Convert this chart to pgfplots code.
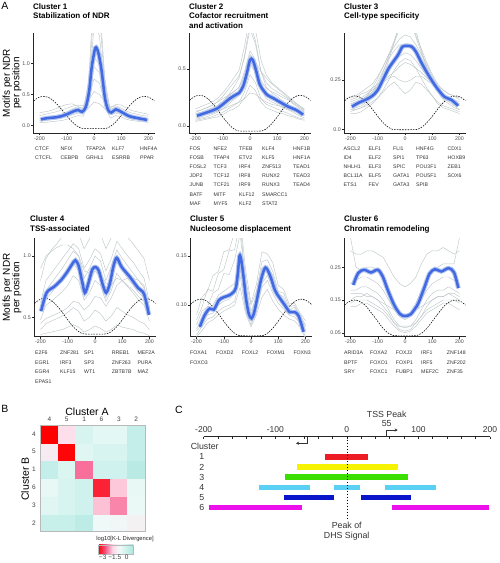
\documentclass[border=0pt]{standalone}
\usepackage{fontspec}
\setmainfont{Liberation Sans}
\usepackage{pgfplots}
\pgfplotsset{compat=1.18}
\usepackage{pgfplotstable}
\usetikzlibrary{calc,arrows.meta}

\definecolor{ggblue}{RGB}{65,105,225}
\definecolor{ggband}{RGB}{178,196,238}
\definecolor{grayl}{RGB}{190,199,201}
\definecolor{cR}{RGB}{237,28,36}
\definecolor{cY}{RGB}{246,242,0}
\definecolor{cG}{RGB}{60,222,0}
\definecolor{cC}{RGB}{90,208,245}
\definecolor{cB}{RGB}{10,20,200}
\definecolor{cM}{RGB}{236,16,236}

\newcommand{\fTF}{\fontsize{5.2}{6}\selectfont}
\newcommand{\fTick}{\fontsize{5.3}{6}\selectfont}
\newcommand{\fTitle}{\fontsize{8}{9.5}\selectfont\bfseries}
\newcommand{\fLab}{\fontsize{10}{9.4}\selectfont}
\newcommand{\fC}{\fontsize{8.8}{10}\selectfont}

\newcommand{\tfcol}[4]{\foreach \tfn [count=\i from 0] in {#4}{\node[anchor=base west, inner sep=0pt, font=\fTF, text=black!80] at ({#1pt},{-#2pt-#3pt*\i}) {\tfn};}}

\pgfplotsset{
  colormap={klmap}{rgb255=(255,0,0) rgb255=(245,85,135) rgb255=(255,215,230) rgb255=(240,250,248) rgb255=(205,242,237) rgb255=(170,228,222)},
  pA/.style={anchor=south west, scale only axis, width=122pt, xmin=-224, xmax=224,
    axis x line*=bottom, axis y line*=left, axis line style={-, line width=0.6pt, black!85},
    xtick={-200,-100,0,100,200}, xticklabels={-200,-100,0,100,200}, scaled ticks=false,
    tick align=outside, major tick length=1.8pt, tick style={line width=0.5pt, black!85},
    ticklabel style={font=\fTick, text=black!70}, xticklabel style={inner sep=1.5pt},
    yticklabel style={inner sep=1.2pt}, clip=true},
  gl/.style={no marks, line width=0.45pt, color=grayl},
  ml/.style={no marks, line width=2.5pt, color=ggblue, smooth},
  bl/.style={no marks, line width=4.6pt, color=ggband, smooth},
  dl/.style={no marks, line width=0.55pt, black, dash pattern=on 1.5pt off 1.2pt, smooth},
  barC/.style={no marks, line width=5.3pt},
}

% ---------------- dashed nucleosome curves (one column per cluster)
\pgfplotstableread{
x d1 d2 d3 d4 d5 d6
-222 0.396 0.225 0.145 0.613 0.1007 0.134
-210 0.435 0.249 0.158 0.636 0.1035 0.143
-200 0.458 0.262 0.166 0.648 0.1051 0.147
-185 0.470 0.270 0.170 0.655 0.1060 0.150
-170 0.458 0.262 0.166 0.648 0.1051 0.147
-155 0.421 0.240 0.154 0.627 0.1025 0.140
-140 0.363 0.205 0.135 0.595 0.0984 0.128
-125 0.291 0.162 0.111 0.555 0.0932 0.112
-110 0.211 0.113 0.084 0.510 0.0875 0.096
-95 0.131 0.064 0.057 0.464 0.0818 0.079
-80 0.059 0.021 0.033 0.424 0.0766 0.063
-65 0.001 -0.014 0.014 0.392 0.0725 0.051
-50 -0.036 -0.037 0.002 0.371 0.0699 0.044
-35 -0.048 -0.044 -0.002 0.364 0.0690 0.041
35 -0.048 -0.044 -0.002 0.364 0.0690 0.041
50 -0.036 -0.037 0.002 0.371 0.0699 0.044
65 0.001 -0.014 0.014 0.392 0.0725 0.051
80 0.059 0.021 0.033 0.424 0.0766 0.063
95 0.131 0.064 0.057 0.464 0.0818 0.079
110 0.211 0.113 0.084 0.510 0.0875 0.096
125 0.291 0.162 0.111 0.555 0.0932 0.112
140 0.363 0.205 0.135 0.595 0.0984 0.128
155 0.421 0.240 0.154 0.627 0.1025 0.140
170 0.458 0.262 0.166 0.648 0.1051 0.147
185 0.470 0.270 0.170 0.655 0.1060 0.150
200 0.458 0.262 0.166 0.648 0.1051 0.147
210 0.435 0.249 0.158 0.636 0.1035 0.143
222 0.396 0.225 0.145 0.613 0.1007 0.134
}\dsh

% ---------------- smoothed means
\pgfplotstableread{
x m
-195 0.10
-170 0.12
-145 0.13
-120 0.15
-95 0.19
-75 0.23
-58 0.25
-44 0.22
-30 0.30
-18 0.55
-8 0.95
5 1.25
16 1.17
28 0.88
40 0.45
52 0.25
64 0.21
80 0.26
100 0.22
130 0.15
160 0.12
195 0.09
}\mA
\pgfplotstableread{
x m
-195 0.09
-170 0.11
-145 0.13
-120 0.155
-95 0.20
-75 0.24
-55 0.27
-40 0.29
-25 0.35
-12 0.46
0 0.58
10 0.58
22 0.49
35 0.37
50 0.31
65 0.27
85 0.245
110 0.21
140 0.17
170 0.14
195 0.10
}\mB
\pgfplotstableread{
x m
-195 0.115
-170 0.135
-145 0.15
-120 0.17
-100 0.20
-80 0.255
-60 0.31
-40 0.35
-25 0.38
-10 0.42
0 0.425
10 0.425
25 0.42
40 0.395
60 0.34
80 0.29
100 0.245
120 0.205
145 0.165
170 0.15
195 0.12
}\mC
\pgfplotstableread{
x m
-198 0.55
-178 0.70
-150 0.75
-126 0.80
-102 0.87
-85 0.93
-72 0.965
-60 0.92
-48 0.80
-37 0.70
-24 0.78
-10 0.89
2 0.91
14 0.88
28 0.77
41 0.70
55 0.78
68 0.92
80 0.985
98 0.91
128 0.83
158 0.74
180 0.69
198 0.52
}\mD
\pgfplotstableread{
x m
-188 0.078
-170 0.090
-152 0.0965
-136 0.0955
-118 0.105
-100 0.108
-80 0.110
-65 0.113
-55 0.118
-48 0.133
-42 0.150
-36 0.146
-28 0.130
-18 0.106
-8 0.091
2 0.0865
12 0.093
25 0.110
38 0.127
53 0.138
70 0.130
88 0.115
106 0.107
124 0.100
142 0.093
160 0.093
175 0.089
193 0.073
}\mE
\pgfplotstableread{
x m
-190 0.196
-172 0.232
-150 0.242
-125 0.234
-100 0.242
-82 0.222
-64 0.182
-40 0.135
-18 0.107
0 0.101
20 0.106
38 0.125
50 0.142
72 0.19
90 0.23
110 0.244
133 0.237
160 0.247
180 0.234
196 0.186
}\mF

% ---------------- individual factor profiles (gray)
\pgfplotstableread{
x g1 g2 g3 g4 g5 g6 g7 g8
-200 0.12 0.08 0.11 0.16 0.05 0.21 0.09 0.07
-180 0.13 0.09 0.12 0.18 0.05 0.22 0.10 0.08
-160 0.15 0.10 0.13 0.20 0.06 0.24 0.11 0.09
-140 0.16 0.11 0.15 0.22 0.07 0.27 0.12 0.10
-120 0.18 0.13 0.17 0.25 0.08 0.31 0.14 0.12
-100 0.22 0.16 0.20 0.28 0.10 0.34 0.17 0.14
-80 0.27 0.20 0.24 0.31 0.13 0.35 0.21 0.17
-60 0.30 0.22 0.27 0.33 0.16 0.31 0.25 0.20
-40 0.28 0.20 0.26 0.32 0.15 0.27 0.24 0.20
-20 0.60 0.50 0.42 0.40 0.35 0.50 0.70 0.28
0 1.90 1.60 0.75 0.55 0.95 1.10 2.20 0.38
20 1.80 1.45 0.68 0.50 0.85 0.98 2.00 0.35
40 0.65 0.55 0.38 0.38 0.30 0.42 0.75 0.27
60 0.26 0.18 0.24 0.30 0.12 0.28 0.22 0.18
80 0.30 0.22 0.28 0.32 0.16 0.34 0.25 0.20
100 0.25 0.20 0.24 0.28 0.14 0.33 0.22 0.18
120 0.19 0.14 0.17 0.23 0.10 0.28 0.15 0.13
140 0.16 0.12 0.15 0.20 0.08 0.24 0.12 0.10
160 0.14 0.10 0.13 0.18 0.07 0.22 0.11 0.09
180 0.13 0.09 0.12 0.16 0.06 0.20 0.10 0.08
200 0.11 0.08 0.10 0.15 0.05 0.18 0.09 0.07
}\gA
\pgfplotstableread{
x g1 g2 g3 g4 g5 g6 g7 g8 g9 g10
-200 0.05 0.12 0.04 0.15 0.07 0.10 0.08 0.11 0.06 0.13
-180 0.06 0.14 0.05 0.17 0.08 0.10 0.09 0.12 0.07 0.14
-160 0.07 0.16 0.06 0.19 0.10 0.11 0.11 0.14 0.08 0.16
-140 0.08 0.18 0.07 0.21 0.11 0.12 0.13 0.16 0.10 0.18
-120 0.10 0.21 0.08 0.24 0.13 0.13 0.16 0.18 0.12 0.21
-100 0.12 0.26 0.10 0.29 0.17 0.15 0.21 0.22 0.15 0.24
-80 0.15 0.32 0.13 0.35 0.21 0.17 0.27 0.26 0.19 0.27
-60 0.18 0.38 0.15 0.42 0.24 0.19 0.34 0.30 0.23 0.30
-40 0.21 0.44 0.18 0.49 0.27 0.21 0.42 0.34 0.27 0.34
-20 0.30 0.60 0.25 0.70 0.38 0.24 0.62 0.48 0.40 0.44
0 0.45 0.85 0.36 0.98 0.55 0.29 0.90 0.66 0.63 0.58
20 0.38 0.72 0.31 0.85 0.47 0.28 0.75 0.58 0.52 0.56
40 0.24 0.48 0.21 0.58 0.32 0.24 0.48 0.40 0.32 0.48
60 0.19 0.38 0.16 0.45 0.26 0.21 0.34 0.33 0.24 0.42
80 0.17 0.33 0.14 0.38 0.23 0.19 0.29 0.30 0.21 0.37
100 0.15 0.30 0.12 0.34 0.21 0.18 0.26 0.28 0.19 0.33
120 0.13 0.27 0.11 0.30 0.18 0.17 0.22 0.25 0.16 0.29
140 0.11 0.24 0.09 0.26 0.16 0.15 0.19 0.23 0.14 0.25
160 0.09 0.20 0.08 0.22 0.14 0.13 0.16 0.19 0.12 0.21
180 0.07 0.17 0.06 0.18 0.11 0.12 0.13 0.16 0.09 0.18
200 0.06 0.13 0.05 0.15 0.09 0.10 0.10 0.12 0.07 0.14
}\gB
\pgfplotstableread{
x g1 g2 g3 g4 g5 g6 g7 g8 g9 g10
-200 0.10 0.13 0.16 0.09 0.12 0.08 0.14 0.11 0.10 0.15
-180 0.11 0.14 0.17 0.10 0.13 0.08 0.15 0.12 0.10 0.16
-160 0.12 0.15 0.19 0.11 0.15 0.09 0.16 0.14 0.11 0.18
-140 0.14 0.17 0.21 0.12 0.17 0.11 0.18 0.16 0.13 0.19
-120 0.17 0.19 0.23 0.14 0.21 0.13 0.20 0.19 0.16 0.21
-100 0.22 0.22 0.27 0.16 0.26 0.16 0.22 0.24 0.20 0.23
-80 0.29 0.26 0.32 0.19 0.32 0.20 0.24 0.30 0.27 0.25
-60 0.37 0.30 0.38 0.22 0.38 0.25 0.26 0.36 0.35 0.27
-40 0.44 0.34 0.45 0.24 0.42 0.30 0.27 0.40 0.44 0.29
-20 0.51 0.37 0.53 0.21 0.46 0.34 0.25 0.43 0.54 0.32
0 0.55 0.39 0.58 0.18 0.48 0.36 0.24 0.43 0.60 0.34
20 0.54 0.38 0.56 0.20 0.47 0.35 0.25 0.43 0.58 0.33
40 0.47 0.35 0.48 0.24 0.43 0.31 0.27 0.41 0.50 0.31
60 0.39 0.31 0.41 0.23 0.38 0.26 0.27 0.36 0.40 0.29
80 0.31 0.27 0.34 0.20 0.33 0.21 0.25 0.31 0.32 0.26
100 0.25 0.23 0.28 0.17 0.27 0.17 0.23 0.26 0.25 0.24
120 0.20 0.20 0.23 0.14 0.22 0.13 0.21 0.21 0.19 0.22
140 0.16 0.18 0.20 0.12 0.18 0.11 0.18 0.17 0.15 0.20
160 0.14 0.16 0.18 0.11 0.15 0.10 0.16 0.15 0.13 0.18
180 0.12 0.14 0.17 0.10 0.13 0.09 0.15 0.13 0.11 0.17
200 0.10 0.13 0.15 0.09 0.12 0.08 0.14 0.12 0.10 0.16
}\gC
\pgfplotstableread{
x g1 g2 g3 g4 g5 g6 g7 g8 g9
-200 0.62 0.48 0.40 0.80 0.36 0.55 0.90 0.45 0.58
-180 0.80 0.60 0.45 0.98 0.37 0.65 1.00 0.49 0.72
-160 0.86 0.63 0.47 1.05 0.38 0.70 1.04 0.51 0.78
-140 0.92 0.67 0.49 1.10 0.39 0.76 1.07 0.53 0.84
-120 0.98 0.71 0.51 1.16 0.40 0.82 1.09 0.55 0.90
-100 1.04 0.76 0.54 1.22 0.42 0.88 1.09 0.58 0.97
-80 1.10 0.84 0.58 1.25 0.44 0.94 1.06 0.63 1.04
-60 1.06 0.80 0.55 1.18 0.42 0.88 1.00 0.62 1.00
-40 0.90 0.64 0.47 1.06 0.38 0.68 0.88 0.56 0.82
-20 0.97 0.70 0.50 1.14 0.40 0.78 0.86 0.60 0.90
0 1.06 0.80 0.56 1.22 0.43 0.88 0.90 0.67 1.00
20 1.02 0.76 0.53 1.18 0.41 0.82 0.86 0.66 0.96
40 0.88 0.63 0.47 1.06 0.38 0.66 0.78 0.59 0.80
60 0.98 0.72 0.51 1.15 0.40 0.80 0.76 0.66 0.92
80 1.12 0.86 0.58 1.26 0.44 0.95 0.82 0.76 1.05
100 1.06 0.80 0.55 1.20 0.42 0.88 0.80 0.80 0.98
120 1.00 0.75 0.52 1.15 0.41 0.82 0.76 0.82 0.92
140 0.95 0.70 0.50 1.10 0.40 0.76 0.72 0.82 0.86
160 0.88 0.64 0.47 1.04 0.38 0.70 0.67 0.80 0.80
180 0.82 0.60 0.45 0.98 0.37 0.66 0.63 0.76 0.74
200 0.62 0.47 0.40 0.80 0.35 0.55 0.52 0.58 0.58
}\gD
\pgfplotstableread{
x g1 g2 g3 g4 g5 g6 g7
-200 0.080 0.070 0.085 0.074 0.068 0.090 0.076
-180 0.094 0.078 0.098 0.080 0.074 0.108 0.084
-160 0.098 0.086 0.116 0.090 0.082 0.114 0.096
-140 0.112 0.088 0.114 0.092 0.085 0.130 0.100
-120 0.116 0.094 0.132 0.100 0.090 0.134 0.110
-100 0.132 0.098 0.136 0.104 0.094 0.154 0.114
-80 0.131 0.100 0.155 0.106 0.097 0.156 0.118
-60 0.146 0.104 0.156 0.112 0.100 0.174 0.122
-40 0.172 0.130 0.185 0.140 0.118 0.190 0.150
-20 0.126 0.095 0.120 0.100 0.092 0.136 0.110
0 0.100 0.080 0.094 0.084 0.078 0.102 0.090
20 0.114 0.096 0.108 0.100 0.090 0.121 0.108
40 0.144 0.118 0.138 0.122 0.108 0.154 0.128
60 0.146 0.125 0.140 0.130 0.116 0.152 0.138
80 0.134 0.112 0.130 0.118 0.104 0.143 0.124
100 0.114 0.102 0.112 0.108 0.096 0.120 0.112
120 0.112 0.096 0.108 0.100 0.090 0.116 0.104
140 0.098 0.090 0.095 0.092 0.086 0.101 0.096
160 0.100 0.088 0.098 0.091 0.084 0.102 0.094
180 0.088 0.082 0.090 0.084 0.078 0.092 0.088
200 0.078 0.068 0.080 0.072 0.066 0.084 0.074
}\gE
\pgfplotstableread{
x g1 g2 g3 g4 g5 g6 g7 g8
-200 0.30 0.18 0.15 0.20 0.13 0.17 0.34 0.14
-180 0.29 0.18 0.16 0.21 0.13 0.17 0.25 0.15
-160 0.29 0.19 0.16 0.22 0.14 0.17 0.24 0.15
-140 0.30 0.19 0.17 0.22 0.14 0.16 0.25 0.15
-120 0.30 0.18 0.16 0.21 0.13 0.16 0.25 0.14
-100 0.29 0.17 0.15 0.20 0.12 0.15 0.24 0.13
-80 0.28 0.15 0.13 0.18 0.11 0.14 0.22 0.12
-60 0.25 0.12 0.11 0.15 0.09 0.13 0.18 0.10
-40 0.22 0.09 0.08 0.12 0.07 0.12 0.14 0.08
-20 0.20 0.07 0.06 0.10 0.055 0.11 0.11 0.07
0 0.19 0.065 0.055 0.09 0.05 0.105 0.10 0.07
20 0.20 0.07 0.06 0.10 0.055 0.11 0.11 0.07
40 0.22 0.09 0.08 0.12 0.07 0.12 0.14 0.08
60 0.26 0.12 0.10 0.15 0.09 0.13 0.18 0.10
80 0.29 0.15 0.13 0.18 0.11 0.14 0.22 0.12
100 0.30 0.17 0.15 0.20 0.12 0.15 0.24 0.13
120 0.30 0.18 0.16 0.21 0.13 0.16 0.25 0.14
140 0.31 0.18 0.16 0.22 0.14 0.16 0.26 0.15
160 0.30 0.19 0.17 0.22 0.14 0.17 0.26 0.15
180 0.29 0.18 0.16 0.21 0.13 0.17 0.26 0.15
200 0.30 0.17 0.15 0.20 0.12 0.16 0.34 0.14
}\gF

% ---------------- heatmap (log10 K-L divergence); x = cluster A (4,5,1,6,3,2), y = cluster B (2,3,6,1,5,4)
\pgfplotstableread{
x y c
0 0 0.1
1 0 0.1
2 0 0.35
3 0 -0.9
4 0 -1.0
5 0 -1.15
0 1 -0.5
1 1 -0.3
2 1 -0.1
3 1 -1.95
4 1 -2.35
5 1 -0.8
0 2 -0.7
1 2 -0.3
2 2 -0.1
3 2 -3.2
4 2 -1.9
5 2 -0.7
0 3 0.2
1 3 -0.4
2 3 -2.5
3 3 -0.1
4 3 -0.1
5 3 0.45
0 4 -1.3
1 4 -3.5
2 4 -0.5
3 4 -0.3
4 4 -0.3
5 4 0.2
0 5 -3.55
1 5 -1.6
2 5 -0.3
3 5 -0.6
4 5 -0.6
5 5 0.2
}\hm

\begin{document}
\begin{tikzpicture}
\path[use as bounding box] (0,0) rectangle (499pt,-563pt);

% ===== Panel A, row 1
\begin{axis}[pA, at={(33pt,-133pt)}, height=100pt, ymin=-0.12, ymax=1.49, ytick={0,0.5,1}, yticklabels={0.0,0.5,1.0}]
\pgfplotsinvokeforeach{1,...,8}{\addplot[gl] table[x=x,y=g#1]{\gA};}
\addplot[dl] table[x=x,y=d1]{\dsh};
\addplot[bl] table[x=x,y=m]{\mA};
\addplot[ml] table[x=x,y=m]{\mA};
\end{axis}
\begin{axis}[pA, at={(189pt,-133pt)}, height=100pt, ymin=-0.061, ymax=0.816, ytick={0,0.5}, yticklabels={0.0,0.5}]
\pgfplotsinvokeforeach{1,...,10}{\addplot[gl] table[x=x,y=g#1]{\gB};}
\addplot[dl] table[x=x,y=d2]{\dsh};
\addplot[bl] table[x=x,y=m]{\mB};
\addplot[ml] table[x=x,y=m]{\mB};
\end{axis}
\begin{axis}[pA, at={(344pt,-133pt)}, height=100pt, ymin=-0.019, ymax=0.49, ytick={0,0.25}, yticklabels={0.0,0.25}]
\pgfplotsinvokeforeach{1,...,10}{\addplot[gl] table[x=x,y=g#1]{\gC};}
\addplot[dl] table[x=x,y=d3]{\dsh};
\addplot[bl] table[x=x,y=m]{\mC};
\addplot[ml] table[x=x,y=m]{\mC};
\end{axis}

% ===== Panel A, row 2
\begin{axis}[pA, at={(34pt,-336.7pt)}, height=98.7pt, ymin=0.342, ymax=1.147, ytick={0.5,1}, yticklabels={0.5,1.0}]
\pgfplotsinvokeforeach{1,...,9}{\addplot[gl] table[x=x,y=g#1]{\gD};}
\addplot[dl] table[x=x,y=d4]{\dsh};
\addplot[bl] table[x=x,y=m]{\mD};
\addplot[ml] table[x=x,y=m]{\mD};
\end{axis}
\begin{axis}[pA, at={(190pt,-336.7pt)}, height=98.7pt, ymin=0.068, ymax=0.168, ytick={0.10,0.15}, yticklabels={0.10,0.15}]
\pgfplotsinvokeforeach{1,...,7}{\addplot[gl] table[x=x,y=g#1]{\gE};}
\addplot[dl] table[x=x,y=d5]{\dsh};
\addplot[bl] table[x=x,y=m]{\mE};
\addplot[ml] table[x=x,y=m]{\mE};
\end{axis}
\begin{axis}[pA, at={(344pt,-336.7pt)}, height=98.7pt, ymin=0.038, ymax=0.339, ytick={0.05,0.15,0.25}, yticklabels={0.05,0.15,0.25}]
\pgfplotsinvokeforeach{1,...,8}{\addplot[gl] table[x=x,y=g#1]{\gF};}
\addplot[dl] table[x=x,y=d6]{\dsh};
\addplot[bl] table[x=x,y=m]{\mF};
\addplot[ml] table[x=x,y=m]{\mF};
\end{axis}

% ===== Panel B heatmap
\begin{axis}[at={(40.7pt,-531.7pt)}, anchor=south west, scale only axis, width=104.3pt, height=106.7pt,
  xmin=-0.5, xmax=5.5, ymin=-0.5, ymax=5.5, axis on top,
  xtick={0,1,2,3,4,5}, xticklabels={4,5,1,6,3,2}, ytick={0,1,2,3,4,5}, yticklabels={2,3,6,1,5,4},
  xticklabel pos=upper, major tick length=0pt,
  ticklabel style={font=\fontsize{6.5}{7}\selectfont, text=black!75}, yticklabel style={xshift=-1.5pt},
  axis line style={gray!55, line width=0.5pt},
  colormap name=klmap, point meta min=-3.55, point meta max=0.825,
  colorbar horizontal,
  colorbar style={at={($(parent axis.south west)+(57.6pt,-4.6pt)$)}, anchor=north west,
    scale only axis, width=35pt, height=9pt, xtick={-3,-1.5,0}, xticklabels={−3,−1.5,0},
    major tick length=0pt, xticklabel style={font=\fontsize{6.5}{7}\selectfont, text=black!75, inner sep=1pt},
    axis line style={gray!55, line width=0.4pt}}]
\addplot[matrix plot*, mesh/cols=6, point meta=explicit] table[x=x,y=y,meta=c]{\hm};
\end{axis}

% ===== Panel C
\begin{axis}[at={(203.7pt,-518.5pt)}, anchor=south west, scale only axis, width=286.3pt, height=81.8pt,
  xmin=-200, xmax=200, ymin=-7.1, ymax=1, axis x line=top, axis y line=none,
  axis line style={-, line width=0.7pt, black!85},
  xtick={-200,-100,0,100,200}, xticklabels={-200,-100,0,100,200}, minor xtick={-180,-160,...,180},
  tick align=inside, major tick length=2.7pt, minor tick length=2.7pt, tick style={line width=0.6pt, black!85},
  xticklabel style={font=\fontsize{8.5}{9}\selectfont, text=black!80, yshift=1pt}, clip=false]
\addplot[barC, cR] coordinates {(-30,-1) (30,-1)};
\addplot[barC, cY] coordinates {(-70,-2) (71,-2)};
\addplot[barC, cG] coordinates {(-86,-3) (86,-3)};
\addplot[barC, cC] coordinates {(-123,-4) (-51,-4)};
\addplot[barC, cC] coordinates {(-18,-4) (18,-4)};
\addplot[barC, cC] coordinates {(53,-4) (124,-4)};
\addplot[barC, cB] coordinates {(-88,-5) (-18,-5)};
\addplot[barC, cB] coordinates {(20,-5) (90,-5)};
\addplot[barC, cM] coordinates {(-193,-6) (-62,-6)};
\addplot[barC, cM] coordinates {(63,-6) (198,-6)};
\addplot[no marks, black, line width=0.5pt, dash pattern=on 1.5pt off 1.5pt] coordinates {(0,1) (0,-7.08)};
\addplot[no marks, line width=0.8pt, black!80, -{Stealth[length=3pt,width=3.2pt]}] coordinates {(55,1) (55,1.66) (71,1.66)};
\addplot[no marks, line width=0.8pt, black!80, -{Stealth[length=3pt,width=3.2pt]}] coordinates {(-55,1) (-55,0.35) (-71,0.35)};
\end{axis}

% ===== texts
\node[font=\fontsize{10.5}{11}\selectfont, inner sep=0pt] at (5pt,-6pt) {A};
\node[font=\fontsize{10.5}{11}\selectfont, inner sep=0pt] at (5pt,-409pt) {B};
\node[font=\fontsize{10.5}{11}\selectfont, inner sep=0pt] at (179pt,-410pt) {C};

\node[font=\fLab, rotate=90, align=center, inner sep=0pt] at (12pt,-83pt) {Motifs per NDR\\per position};
\node[font=\fLab, rotate=90, align=center, inner sep=0pt] at (12pt,-287.5pt) {Motifs per NDR\\per position};

\begin{scope}[every node/.style={anchor=base west, inner sep=0pt, font=\fTitle}]
\node at (33pt,-9.5pt) {Cluster 1};
\node at (33pt,-18.9pt) {Stabilization of NDR};
\node at (189pt,-9.5pt) {Cluster 2};
\node at (189pt,-18.9pt) {Cofactor recruitment};
\node at (189pt,-28.3pt) {and activation};
\node at (344pt,-9.5pt) {Cluster 3};
\node at (344pt,-18.9pt) {Cell-type specificity};
\node at (30pt,-221.2pt) {Cluster 4};
\node at (30pt,-231pt) {TSS-associated};
\node at (190pt,-221.2pt) {Cluster 5};
\node at (190pt,-231pt) {Nucleosome displacement};
\node at (344pt,-221.2pt) {Cluster 6};
\node at (344pt,-231pt) {Chromatin remodeling};
\end{scope}

% factor names
\tfcol{35}{150.1}{9.2}{CTCF,CTCFL}
\tfcol{60.5}{150.1}{9.2}{NFIX,CEBPB}
\tfcol{86}{150.1}{9.2}{TFAP2A,GRHL1}
\tfcol{112}{150.1}{9.2}{KLF7,ESRRB}
\tfcol{140}{150.1}{9.2}{HNF4A,PPAR}
\tfcol{189.5}{150.1}{9.2}{FOS,FOSB,FOSL2,JDP2,JUNB,BATF,MAF}
\tfcol{213.5}{150.1}{9.2}{NFE2,TFAP4,TCF3,TCF12,TCF21,MITF,MYF5}
\tfcol{239}{150.1}{9.2}{TFEB,ETV2,IRF4,IRF8,IRF9,KLF12,KLF2}
\tfcol{262}{150.1}{9.2}{KLF4,KLF5,ZNF513,RUNX2,RUNX3,SMARCC1,STAT2}
\tfcol{293}{150.1}{9.2}{HNF1B,HNF1A,TEAD1,TEAD3,TEAD4}
\tfcol{343.5}{150.1}{9.2}{ASCL2,ID4,NHLH1,BCL11A,ETS1}
\tfcol{368.5}{150.1}{9.2}{ELF1,ELF2,ELF3,ELF5,FEV}
\tfcol{393}{150.1}{9.2}{FLI1,SPI1,SPIC,GATA1,GATA3}
\tfcol{416}{150.1}{9.2}{HNF4G,TP63,POU3F1,POU5F1,SPIB}
\tfcol{447.5}{150.1}{9.2}{CDX1,HOXB9,ZEB1,SOX6}
\tfcol{35}{354.8}{9.4}{E2F6,EGR1,EGR4,EPAS1}
\tfcol{60}{354.8}{9.4}{ZNF281,IRF3,KLF15}
\tfcol{84}{354.8}{9.4}{SP1,SP3,WT1}
\tfcol{111.7}{354.8}{9.4}{RREB1,ZNF263,ZBTB7B}
\tfcol{137.3}{354.8}{9.4}{MEF2A,PURA,MAZ}
\tfcol{190}{354.8}{9.4}{FOXA1,FOXO3}
\tfcol{216}{354.8}{9.4}{FOXD2}
\tfcol{241.7}{354.8}{9.4}{FOXL2}
\tfcol{266.7}{354.8}{9.4}{FOXM1}
\tfcol{293.3}{354.8}{9.4}{FOXN3}
\tfcol{344}{354.8}{9.4}{ARID3A,BPTF,SRY}
\tfcol{370}{354.8}{9.4}{FOXA2,FOXO1,FOXC1}
\tfcol{395.7}{354.8}{9.4}{FOXJ3,FOXP1,FUBP1}
\tfcol{421}{354.8}{9.4}{IRF1,IRF5,MEF2C}
\tfcol{446.7}{354.8}{9.4}{ZNF148,ZNF202,ZNF35}

% panel B texts
\node[font=\fontsize{10.5}{11}\selectfont, inner sep=0pt] at (87pt,-411.7pt) {Cluster A};
\node[font=\fontsize{10.5}{11}\selectfont, inner sep=0pt, rotate=90] at (25pt,-479pt) {Cluster B};
\node[font=\fontsize{5.8}{6.5}\selectfont, inner sep=0pt, text=black!85] at (125pt,-539pt) {log10[K-L Divergence]};

% panel C texts
\begin{scope}[every node/.style={inner sep=0pt, font=\fC, text=black!80}]
\node at (386.7pt,-414pt) {TSS Peak};
\node at (386.7pt,-424pt) {55};
\node at (204.7pt,-446pt) {Cluster};
\foreach \k in {1,...,6} {\node at (201.7pt,{-456.9pt-10.1pt*(\k-1)}) {\k};}
\node at (346.7pt,-525.7pt) {Peak of};
\node at (346.7pt,-536pt) {DHS Signal};
\end{scope}
\end{tikzpicture}
\end{document}
